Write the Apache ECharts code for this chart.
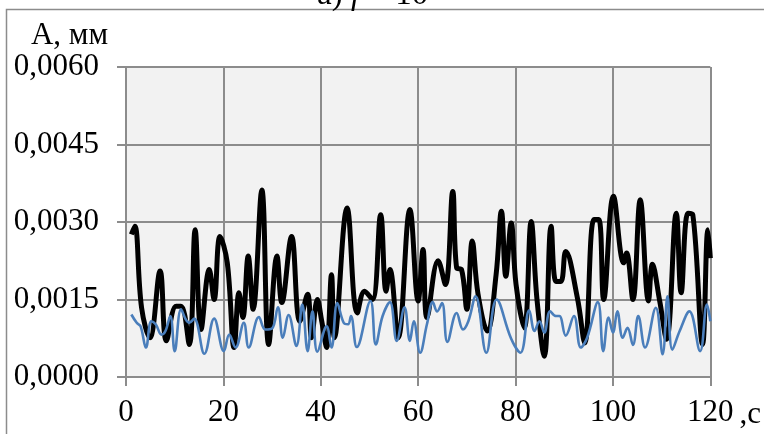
<!DOCTYPE html>
<html>
<head>
<meta charset="utf-8">
<script src="https://cdn.jsdelivr.net/npm/echarts@6/dist/echarts.min.js"></script>
<style>
html,body{margin:0;padding:0;background:#fff;}
#c{width:764px;height:434px;}
</style>
</head>
<body>
<div id="c"></div>
<script>
// Time, s
const blackT = [1.1,1.8,3.2,4.9,7.0,8.3,10.3,11.3,13.0,14.2,15.4,17.1,18.1,19.3,20.8,22.2,23.2,24.0,25.1,26.1,27.9,29.3,31.0,32.0,34.0,35.7,37.3,38.1,39.3,40.2,41.2,42.2,42.8,45.4,47.5,49.0,50.6,52.3,53.4,54.2,55.9,58.3,60.0,61.0,61.8,64.1,65.6,67.1,67.9,68.9,70.0,71.1,72.3,74.2,76.0,77.1,78.0,79.1,80.1,81.8,83.2,84.4,85.9,87.3,88.3,89.3,90.3,92.7,94.2,96.1,97.1,98.1,100.1,102.2,102.8,104.1,105.6,107.3,108.1,109.6,111.0,113.0,114.0,115.4,116.4,118.4,119.5,120];
// Amplitude, mm
const blackA = [0.00276,0.00292,0.00134,0.00076,0.00205,0.00070,0.00137,0.00137,0.00063,0.00285,0.00092,0.00208,0.00150,0.00272,0.00221,0.00057,0.00163,0.00115,0.00234,0.00131,0.00362,0.00063,0.00234,0.00144,0.00272,0.00108,0.00160,0.00076,0.00150,0.00108,0.00057,0.00198,0.00076,0.00327,0.00124,0.00166,0.00150,0.00314,0.00166,0.00208,0.00076,0.00324,0.00147,0.00247,0.00115,0.00225,0.00179,0.00359,0.00211,0.00208,0.00131,0.00263,0.00160,0.00089,0.00198,0.00321,0.00195,0.00298,0.00179,0.00095,0.00301,0.00150,0.00040,0.00292,0.00185,0.00185,0.00243,0.00153,0.00066,0.00305,0.00305,0.00150,0.00350,0.00221,0.00240,0.00150,0.00343,0.00147,0.00218,0.00147,0.00073,0.00317,0.00163,0.00317,0.00314,0.00063,0.00285,0.00230];

const blueT = [1.1,2.2,3.0,4.1,5.2,6.1,7.3,8.1,9.1,10.0,11.3,12.3,13.0,14.0,16.1,18.1,20.1,21.2,22.5,24.2,25.2,27.3,28.6,30.0,31.2,32.2,33.4,35.0,36.2,37.3,38.3,39.3,41.2,42.2,43.4,44.7,45.6,46.2,47.4,50.2,51.3,52.7,54.2,55.6,57.2,58.3,59.1,60.4,61.8,63.0,63.9,64.9,66.0,67.9,69.2,70.3,71.8,74.0,76.1,79.1,81.0,82.8,83.9,84.9,85.9,87.1,88.3,89.0,90.3,92.0,93.4,94.7,96.9,98.0,99.1,100.0,100.9,102.0,103.0,104.1,105.2,106.6,108.8,110.2,111.2,112.2,113.7,115.7,117.9,119.3,120];
const blueA = [0.00121,0.00105,0.00098,0.00057,0.00108,0.00102,0.00082,0.00089,0.00118,0.00050,0.00131,0.00111,0.00105,0.00113,0.00045,0.00113,0.00050,0.00082,0.00057,0.00105,0.00057,0.00116,0.00092,0.00094,0.00135,0.00076,0.00120,0.00060,0.00140,0.00050,0.00127,0.00049,0.00098,0.00057,0.00143,0.00105,0.00102,0.00118,0.00058,0.00147,0.00063,0.00118,0.00145,0.00070,0.00135,0.00070,0.00108,0.00047,0.00102,0.00145,0.00127,0.00143,0.00068,0.00124,0.00092,0.00108,0.00156,0.00047,0.00150,0.00074,0.00047,0.00129,0.00089,0.00108,0.00086,0.00127,0.00118,0.00118,0.00080,0.00118,0.00057,0.00076,0.00145,0.00050,0.00115,0.00086,0.00127,0.00076,0.00095,0.00062,0.00118,0.00057,0.00134,0.00044,0.00156,0.00053,0.00089,0.00127,0.00050,0.00140,0.00108];

const yName = 'А, мм';
const xUnit = ',c';

const font = '"Liberation Serif","Times New Roman",serif';
const gridGray = '#8c8c8c';

const chart = echarts.init(document.getElementById('c'), null, {renderer: 'canvas'});
chart.setOption({
  animation: false,
  backgroundColor: '#ffffff',
  title: {
    text: '{n|а) }{i|f}{n| = 10}',
    left: 312,
    top: -26,
    textStyle: {
      fontWeight: 'normal',
      rich: {
        n: {fontFamily: font, fontSize: 33, fontWeight: 'normal', color: '#000'},
        i: {fontFamily: font, fontSize: 33, fontWeight: 'normal', fontStyle: 'italic', color: '#000'}
      }
    }
  },
  graphic: [
    {type: 'polyline', silent: true, shape: {points: [[6.5, 434], [6.5, 9.5], [764, 9.5]]},
     style: {stroke: gridGray, lineWidth: 1.5, fill: null}}
  ],
  grid: {left: 126, right: 46, top: 67, bottom: 57, show: true, backgroundColor: '#f2f2f2', borderWidth: 0},
  xAxis: {
    type: 'value', min: 0, max: 120, interval: 20,
    name: xUnit, nameLocation: 'end', nameGap: 28,
    nameTextStyle: {fontFamily: font, fontSize: 31, color: '#000', align: 'left', verticalAlign: 'top', padding: [22, 0, 0, 0]},
    axisLine: {show: true, lineStyle: {color: gridGray, width: 2}},
    axisTick: {show: true, inside: false, length: 9, lineStyle: {color: gridGray, width: 2}},
    axisLabel: {fontFamily: font, fontSize: 31, color: '#000', margin: 20},
    splitLine: {show: true, lineStyle: {color: gridGray, width: 2}}
  },
  yAxis: {
    type: 'value', min: 0, max: 0.006, interval: 0.0015,
    name: yName, nameLocation: 'end', nameGap: 5,
    nameTextStyle: {fontFamily: font, fontSize: 31, color: '#000', align: 'right', padding: [0, 18, 0, 0]},
    axisLine: {show: true, lineStyle: {color: gridGray, width: 2}},
    axisTick: {show: true, inside: false, length: 9, lineStyle: {color: gridGray, width: 2}},
    axisLabel: {fontFamily: font, fontSize: 31, color: '#000', margin: 27,
      formatter: v => v.toFixed(4).replace('.', ',')},
    splitLine: {show: true, lineStyle: {color: gridGray, width: 2}}
  },
  series: [
    {type: 'line', data: blackT.map((t, i) => [t, blackA[i]]), smooth: 0.4, showSymbol: false,
     lineStyle: {color: '#000000', width: 5}},
    {type: 'line', data: blueT.map((t, i) => [t, blueA[i]]), smooth: 0.4, showSymbol: false,
     lineStyle: {color: '#4a7ebb', width: 2.6}}
  ]
});
</script>
</body>
</html>
